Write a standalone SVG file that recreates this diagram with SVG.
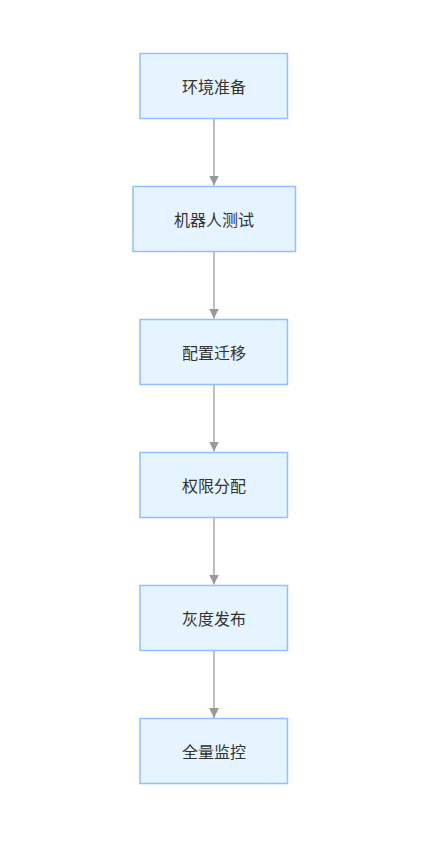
<svg xmlns="http://www.w3.org/2000/svg" width="428" height="842" viewBox="0 0 428 842">
<style>
.node rect{fill:#e6f4ff;stroke:#91bfff;stroke-width:1.5}
.node text{font-family:"Noto Sans CJK SC","Noto Sans",sans-serif;font-size:16px;fill:#333;text-anchor:middle;dominant-baseline:central}
.edge{stroke:#aaa;stroke-width:1.5;fill:none;marker-end:url(#arr)}
</style>
<defs>
<marker id="arr" viewBox="0 0 10 10" refX="10" refY="5" markerWidth="10" markerHeight="10" markerUnits="userSpaceOnUse" orient="auto">
<path d="M0,0 L10,5 L0,10 z" fill="#999"/>
</marker>
</defs>
<rect width="428" height="842" fill="#fff"/>
<g id="edges">
<path class="edge" d="M214,119 L214,185.5"/>
<path class="edge" d="M214,252 L214,318.5"/>
<path class="edge" d="M214,385 L214,451.5"/>
<path class="edge" d="M214,518 L214,584.5"/>
<path class="edge" d="M214,651 L214,718"/>
</g>
<g id="n1" class="node"><rect x="140" y="53.5" width="147.5" height="65"/><text x="214" y="86">环境准备</text></g>
<g id="n2" class="node"><rect x="133" y="186.5" width="162.5" height="65"/><text x="214" y="219">机器人测试</text></g>
<g id="n3" class="node"><rect x="140" y="319.5" width="147.5" height="65"/><text x="214" y="352">配置迁移</text></g>
<g id="n4" class="node"><rect x="140" y="452.5" width="147.5" height="65"/><text x="214" y="485">权限分配</text></g>
<g id="n5" class="node"><rect x="140" y="585.5" width="147.5" height="65"/><text x="214" y="618">灰度发布</text></g>
<g id="n6" class="node"><rect x="140" y="718.5" width="147.5" height="65"/><text x="214" y="751">全量监控</text></g>
</svg>
